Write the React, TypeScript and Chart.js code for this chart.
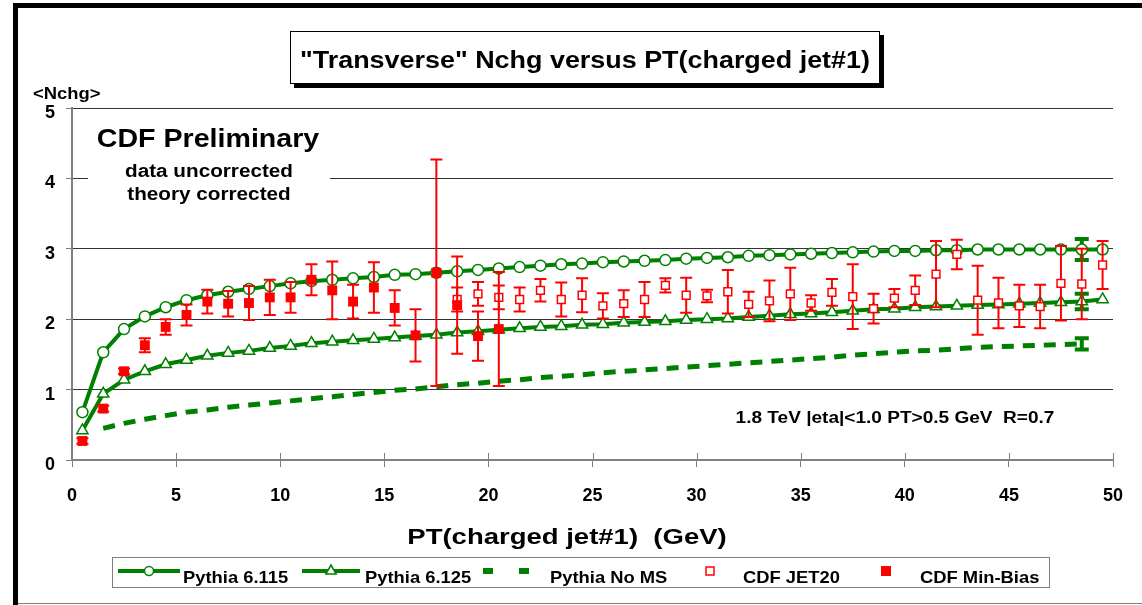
import React, { useEffect, useRef } from "react";
import { Chart, registerables } from "chart.js";

Chart.register(...registerables);

const FONT = "'Liberation Sans', Arial, Helvetica, sans-serif";
const GREEN = "#008000";
const RED = "#ff0000";

// ---------- data ----------
const PT_BINS = [
  0.5, 1.5, 2.5, 3.5, 4.5, 5.5, 6.5, 7.5, 8.5, 9.5,
  10.5, 11.5, 12.5, 13.5, 14.5, 15.5, 16.5, 17.5, 18.5, 19.5,
  20.5, 21.5, 22.5, 23.5, 24.5, 25.5, 26.5, 27.5, 28.5, 29.5,
  30.5, 31.5, 32.5, 33.5, 34.5, 35.5, 36.5, 37.5, 38.5, 39.5,
  40.5, 41.5, 42.5, 43.5, 44.5, 45.5, 46.5, 47.5, 48.5, 49.5,
];

const PYTHIA_6115 = [
  0.68, 1.53, 1.86, 2.04, 2.17, 2.27, 2.34, 2.39, 2.43, 2.47,
  2.51, 2.54, 2.56, 2.58, 2.60, 2.63, 2.64, 2.66, 2.68, 2.70,
  2.72, 2.74, 2.76, 2.78, 2.79, 2.81, 2.82, 2.83, 2.84, 2.86,
  2.87, 2.88, 2.90, 2.91, 2.92, 2.93, 2.94, 2.95, 2.96, 2.97,
  2.97, 2.98, 2.98, 2.99, 2.99, 2.99, 2.99, 2.99, 2.99, 2.99,
];

const PYTHIA_6125 = [
  0.42, 0.94, 1.14, 1.26, 1.36, 1.42, 1.48, 1.52, 1.55, 1.59,
  1.62, 1.66, 1.68, 1.70, 1.72, 1.74, 1.76, 1.78, 1.81, 1.83,
  1.85, 1.87, 1.89, 1.90, 1.92, 1.93, 1.95, 1.96, 1.97, 1.99,
  2.00, 2.01, 2.03, 2.05, 2.07, 2.08, 2.10, 2.12, 2.14, 2.15,
  2.17, 2.18, 2.19, 2.20, 2.21, 2.22, 2.23, 2.24, 2.25, 2.28,
];

const NO_MS_PT = PT_BINS.slice(1, 49);
const PYTHIA_NO_MS = [
  0.45, 0.52, 0.58, 0.63, 0.68, 0.71, 0.75, 0.78, 0.81, 0.84,
  0.87, 0.90, 0.93, 0.96, 0.99, 1.01, 1.04, 1.07, 1.09, 1.12,
  1.14, 1.17, 1.19, 1.21, 1.24, 1.26, 1.28, 1.30, 1.32, 1.34,
  1.36, 1.38, 1.40, 1.42, 1.44, 1.46, 1.49, 1.51, 1.53, 1.55,
  1.56, 1.58, 1.60, 1.61, 1.62, 1.63, 1.64, 1.65,
];

// theory statistical error bars (only shown at one bin)
const THEORY_ERR_PT = [48.5];
const PYTHIA_6115_ERR = [0.15];
const PYTHIA_6125_ERR = [0.11];
const PYTHIA_NO_MS_ERR = [0.08];

const MINBIAS_PT = PT_BINS.slice(0, 21);
const CDF_MINBIAS = [
  0.27, 0.73, 1.26, 1.63, 1.89, 2.06, 2.25, 2.22, 2.23, 2.31,
  2.31, 2.56, 2.41, 2.25, 2.45, 2.16, 1.77, 2.66, 2.20, 1.76, 1.86,
];
const CDF_MINBIAS_ERR = [
  0.04, 0.04, 0.04, 0.10, 0.11, 0.15, 0.17, 0.18, 0.24, 0.25,
  0.22, 0.22, 0.41, 0.24, 0.36, 0.25, 0.37, 1.61, 0.69, 0.35, 0.81,
];

const JET20_PT = PT_BINS.slice(18, 50);
const CDF_JET20 = [
  2.28, 2.36, 2.31, 2.28, 2.41, 2.28, 2.34, 2.19, 2.22, 2.28,
  2.48, 2.34, 2.33, 2.39, 2.21, 2.26, 2.36, 2.23, 2.38, 2.32,
  2.15, 2.30, 2.41, 2.64, 2.92, 2.27, 2.23, 2.19, 2.18, 2.51,
  2.50, 2.77,
];
const CDF_JET20_ERR = [
  0.17, 0.17, 0.17, 0.17, 0.16, 0.24, 0.24, 0.18, 0.19, 0.25,
  0.10, 0.25, 0.09, 0.31, 0.18, 0.29, 0.37, 0.11, 0.19, 0.46,
  0.21, 0.13, 0.21, 0.47, 0.21, 0.49, 0.36, 0.30, 0.31, 0.53,
  0.50, 0.34,
];

const X_TICKS = [0, 5, 10, 15, 20, 25, 30, 35, 40, 45, 50];
const Y_TICKS = [0, 1, 2, 3, 4, 5];

const TITLE = '"Transverse" Nchg versus PT(charged jet#1)';
const Y_TITLE = "<Nchg>";
const X_TITLE = "PT(charged jet#1)  (GeV)";
const NOTE_LINES = ["CDF Preliminary", "data uncorrected", "theory corrected"];
const CUTS_NOTE = "1.8 TeV |eta|<1.0 PT>0.5 GeV  R=0.7";

// ---------- helpers ----------
function drawText(
  ctx: CanvasRenderingContext2D,
  text: string,
  x: number,
  y: number,
  size: number,
  align: "left" | "center" | "right",
  sx = 1
) {
  ctx.save();
  ctx.font = `bold ${size}px ${FONT}`;
  ctx.textBaseline = "alphabetic";
  ctx.textAlign = "left";
  ctx.fillStyle = "#000";
  const w = ctx.measureText(text).width * sx;
  let left = x;
  if (align === "center") left = x - w / 2;
  else if (align === "right") left = x - w;
  ctx.translate(left, y);
  ctx.scale(sx, 1);
  ctx.fillText(text, 0, 0);
  ctx.restore();
}

const pts = (xs: number[], ys: number[]) => xs.map((x, i) => ({ x, y: ys[i] }));

const errList = (xs: number[], ys: number[], es: number[]) =>
  xs.map((x, i) => ({ x, y: ys[i], e: es[i] }));

const theoryErr = (xsSeries: number[], series: number[], errs: number[]) =>
  THEORY_ERR_PT.map((x, i) => ({ x, y: series[xsSeries.indexOf(x)], e: errs[i] }));

// ---------- plugins ----------
const errorBarPlugin = {
  id: "errorBars",
  beforeDatasetDraw(chart: any, args: any) {
    const ds = chart.data.datasets[args.index];
    if (!ds.errorBars) return;
    const { ctx } = chart;
    const xs = chart.scales.x;
    const ys = chart.scales.y;
    const cap = ds.errorCap;
    ctx.save();
    ctx.strokeStyle = ds.errorColor;
    ctx.lineWidth = ds.errorWidth;
    ctx.lineCap = "butt";
    for (const b of ds.errorBars) {
      const px = xs.getPixelForValue(b.x);
      const top = ys.getPixelForValue(b.y + b.e);
      const bot = ys.getPixelForValue(b.y - b.e);
      ctx.beginPath();
      ctx.moveTo(px, top);
      ctx.lineTo(px, bot);
      ctx.moveTo(px - cap, top);
      ctx.lineTo(px + cap, top);
      ctx.moveTo(px - cap, bot);
      ctx.lineTo(px + cap, bot);
      ctx.stroke();
    }
    ctx.restore();
  },
};

const decorPlugin = {
  id: "decor",
  beforeDraw(chart: any) {
    const { ctx, width, height } = chart;
    ctx.save();
    ctx.fillStyle = "#fff";
    ctx.fillRect(0, 0, width, height);
    ctx.restore();
  },
  beforeDatasetsDraw(chart: any) {
    const { ctx } = chart;
    const xs = chart.scales.x;
    const area = chart.chartArea;
    ctx.save();
    // white background of the note text box (interrupts the grid line)
    ctx.fillStyle = "#fff";
    ctx.fillRect(88, 116, 242, 94);
    // upward half of the x tick marks
    ctx.strokeStyle = "#808080";
    ctx.lineWidth = 1;
    for (const v of X_TICKS) {
      const px = Math.round(xs.getPixelForValue(v)) + 0.5;
      ctx.beginPath();
      ctx.moveTo(px, area.bottom);
      ctx.lineTo(px, area.bottom - 7);
      ctx.stroke();
    }
    ctx.restore();
  },
  afterDraw(chart: any) {
    const { ctx, width, height } = chart;
    ctx.save();
    // outer frame
    ctx.fillStyle = "#000";
    ctx.fillRect(13, 3, width - 13, 5);
    ctx.fillRect(13, 3, 5, height - 3);
    ctx.fillStyle = "#808080";
    ctx.fillRect(18, height - 2, width - 18, 1);

    // title box with shadow
    ctx.fillStyle = "#000";
    ctx.fillRect(294, 35, 590, 53);
    ctx.fillStyle = "#fff";
    ctx.fillRect(290, 31, 590, 53);
    ctx.strokeStyle = "#000";
    ctx.lineWidth = 1;
    ctx.strokeRect(290.5, 31.5, 589, 52);
    drawText(ctx, TITLE, 585, 68, 23, "center", 1.17);

    // axis titles
    drawText(ctx, Y_TITLE, 33, 99, 16, "left", 1.15);
    drawText(ctx, X_TITLE, 567, 544, 22, "center", 1.25);

    // notes
    drawText(ctx, NOTE_LINES[0], 208, 147, 26, "center", 1.1);
    drawText(ctx, NOTE_LINES[1], 209, 177, 18, "center", 1.15);
    drawText(ctx, NOTE_LINES[2], 209, 200, 18, "center", 1.15);
    drawText(ctx, CUTS_NOTE, 895, 423, 16, "center", 1.19);

    // legend
    const ds = chart.data.datasets;
    ctx.fillStyle = "#fff";
    ctx.fillRect(112, 557, 938, 31);
    ctx.strokeStyle = "#808080";
    ctx.lineWidth = 1;
    ctx.strokeRect(112.5, 557.5, 937, 30);
    const my = 571;
    const ty = 583;
    const lf = 17;
    const lsx = 1.08;

    // 1: line + circle
    ctx.strokeStyle = GREEN;
    ctx.lineWidth = 4;
    ctx.beginPath();
    ctx.moveTo(118, my);
    ctx.lineTo(180, my);
    ctx.stroke();
    ctx.fillStyle = "#fff";
    ctx.lineWidth = 1.5;
    ctx.beginPath();
    ctx.arc(149, my, 4.5, 0, Math.PI * 2);
    ctx.fill();
    ctx.stroke();
    drawText(ctx, ds[0].label, 183, ty, lf, "left", lsx);

    // 2: line + triangle
    ctx.lineWidth = 4;
    ctx.beginPath();
    ctx.moveTo(302, my);
    ctx.lineTo(360, my);
    ctx.stroke();
    ctx.lineWidth = 1.5;
    ctx.fillStyle = "#fff";
    ctx.beginPath();
    ctx.moveTo(331, my - 6);
    ctx.lineTo(331 + 5.2, my + 3);
    ctx.lineTo(331 - 5.2, my + 3);
    ctx.closePath();
    ctx.fill();
    ctx.stroke();
    drawText(ctx, ds[1].label, 365, ty, lf, "left", lsx);

    // 3: dashed line sample
    ctx.fillStyle = GREEN;
    ctx.fillRect(483, my - 3, 10, 6);
    ctx.fillRect(519, my - 3, 10, 6);
    drawText(ctx, ds[2].label, 550, ty, lf, "left", lsx);

    // 4: open square
    ctx.fillStyle = "#fff";
    ctx.strokeStyle = RED;
    ctx.lineWidth = 1.5;
    ctx.fillRect(706, my - 4, 8, 8);
    ctx.strokeRect(706, my - 4, 8, 8);
    drawText(ctx, ds[3].label, 743, ty, lf, "left", lsx);

    // 5: filled square
    ctx.fillStyle = RED;
    ctx.fillRect(881, my - 5, 10, 10);
    drawText(ctx, ds[4].label, 920, ty, lf, "left", lsx);

    ctx.restore();
  },
};

export default function App() {
  const ref = useRef<HTMLCanvasElement>(null);

  useEffect(() => {
    const canvas = ref.current;
    if (!canvas) return;

    const chart = new Chart(canvas, {
      type: "line",
      data: {
        datasets: [
          {
            label: "Pythia 6.115",
            data: pts(PT_BINS, PYTHIA_6115),
            borderColor: GREEN,
            borderWidth: 4,
            pointStyle: "circle",
            pointRadius: 5.5,
            pointBorderWidth: 1.5,
            pointBackgroundColor: "#fff",
            pointBorderColor: GREEN,
            tension: 0,
            order: 2,
            errorBars: theoryErr(PT_BINS, PYTHIA_6115, PYTHIA_6115_ERR),
            errorColor: GREEN,
            errorWidth: 4,
            errorCap: 7,
          } as any,
          {
            label: "Pythia 6.125",
            data: pts(PT_BINS, PYTHIA_6125),
            borderColor: GREEN,
            borderWidth: 4,
            pointStyle: "triangle",
            pointRadius: 6.5,
            pointBorderWidth: 1.5,
            pointBackgroundColor: "#fff",
            pointBorderColor: GREEN,
            tension: 0,
            order: 3,
            errorBars: theoryErr(PT_BINS, PYTHIA_6125, PYTHIA_6125_ERR),
            errorColor: GREEN,
            errorWidth: 4,
            errorCap: 7,
          } as any,
          {
            label: "Pythia No MS",
            data: pts(NO_MS_PT, PYTHIA_NO_MS),
            borderColor: GREEN,
            borderWidth: 5,
            borderDash: [12, 9],
            pointRadius: 0,
            tension: 0,
            order: 4,
            errorBars: theoryErr(NO_MS_PT, PYTHIA_NO_MS, PYTHIA_NO_MS_ERR),
            errorColor: GREEN,
            errorWidth: 4,
            errorCap: 7,
          } as any,
          {
            label: "CDF JET20",
            data: pts(JET20_PT, CDF_JET20),
            showLine: false,
            pointStyle: "rect",
            pointRadius: 5.5,
            pointBorderWidth: 1.5,
            pointBackgroundColor: "#fff",
            pointBorderColor: RED,
            borderColor: RED,
            order: 1,
            errorBars: errList(JET20_PT, CDF_JET20, CDF_JET20_ERR),
            errorColor: RED,
            errorWidth: 2,
            errorCap: 6,
          } as any,
          {
            label: "CDF Min-Bias",
            data: pts(MINBIAS_PT, CDF_MINBIAS),
            showLine: false,
            pointStyle: "rect",
            pointRadius: 7,
            pointBorderWidth: 0,
            pointBackgroundColor: RED,
            pointBorderColor: RED,
            borderColor: RED,
            order: 0,
            errorBars: errList(MINBIAS_PT, CDF_MINBIAS, CDF_MINBIAS_ERR),
            errorColor: RED,
            errorWidth: 2,
            errorCap: 6,
          } as any,
        ],
      },
      options: {
        responsive: false,
        animation: false,
        devicePixelRatio: 1,
        layout: { padding: { left: 0, right: 29, top: 108, bottom: 0 } },
        plugins: {
          legend: { display: false },
          title: { display: false },
          tooltip: { enabled: false },
        },
        scales: {
          x: {
            type: "linear",
            min: 0,
            max: 50,
            afterFit: (s: any) => {
              s.height = 145;
            },
            afterBuildTicks: (s: any) => {
              s.ticks = X_TICKS.map((v) => ({ value: v }));
            },
            grid: {
              drawOnChartArea: false,
              drawTicks: true,
              tickLength: 7,
              color: "#808080",
              lineWidth: 1,
            },
            border: { display: true, color: "#808080", width: 2 },
            ticks: {
              color: "#000",
              font: { family: FONT, size: 18, weight: "bold" },
              padding: 18,
              maxRotation: 0,
              autoSkip: false,
            },
          },
          y: {
            type: "linear",
            min: 0,
            max: 5,
            afterFit: (s: any) => {
              s.width = 72;
            },
            afterBuildTicks: (s: any) => {
              s.ticks = Y_TICKS.map((v) => ({ value: v }));
            },
            grid: {
              drawOnChartArea: true,
              drawTicks: true,
              tickLength: 6,
              color: "#333",
              tickColor: "#808080",
              lineWidth: 1,
            },
            border: { display: true, color: "#808080", width: 2 },
            ticks: {
              color: "#000",
              font: { family: FONT, size: 18, weight: "bold" },
              padding: 11,
              labelOffset: 5,
              autoSkip: false,
            },
          },
        },
      } as any,
      plugins: [errorBarPlugin, decorPlugin],
    });

    return () => chart.destroy();
  }, []);

  return (
    <div style={{ position: "fixed", left: 0, top: 0, width: 1142, height: 605, background: "#fff" }}>
      <canvas ref={ref} width={1142} height={605} style={{ display: "block", width: 1142, height: 605 }} />
    </div>
  );
}
